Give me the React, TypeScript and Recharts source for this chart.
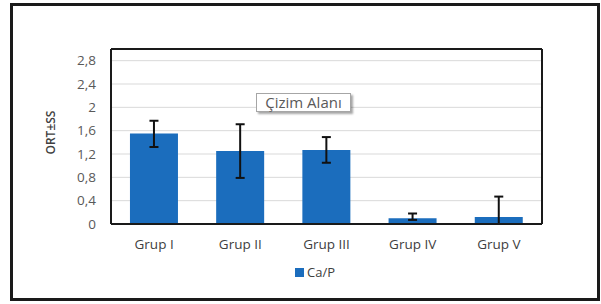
import React from 'react';
import { BarChart, Bar, XAxis, YAxis, CartesianGrid, ErrorBar, Legend } from 'recharts';

const categories = ['Grup I', 'Grup II', 'Grup III', 'Grup IV', 'Grup V'];
const means = [1.55, 1.25, 1.27, 0.1, 0.12];
const errLow = [0.23, 0.46, 0.22, 0.03, 0.12];
const errHigh = [0.22, 0.46, 0.22, 0.08, 0.35];
const yTicks = [0, 0.4, 0.8, 1.2, 1.6, 2, 2.4, 2.8];
const seriesName = 'Ca/P';
const yTitle = 'ORT±SS';
const plotAreaLabel = 'Çizim Alanı';

const data = categories.map((c, i) => ({
  name: c,
  value: means[i],
  err: [errLow[i], errHigh[i]],
}));

const BLUE = '#1B6DBD';
const FONT = '"Open Sans", "Noto Sans", sans-serif';

const YTitle = (props: any) => {
  const vb = props.viewBox || {};
  const x = vb.x + 9;
  const y = vb.y + vb.height / 2 - 4;
  return (
    <text
      x={x}
      y={y}
      transform={`rotate(-90 ${x} ${y})`}
      textAnchor="middle"
      dominantBaseline="central"
      fill="#404040"
      fontSize={12}
      fontWeight={600}
      fontFamily={FONT}
    >
      {yTitle}
    </text>
  );
};

const LegendContent = () => (
  <div style={{ display: 'flex', alignItems: 'center', height: 18, fontFamily: FONT }}>
    <span style={{ display: 'inline-block', width: 9, height: 9, background: BLUE, marginRight: 3 }} />
    <span style={{ fontSize: 13, color: '#404040', lineHeight: '18px' }}>{seriesName}</span>
  </div>
);

export default function App() {
  return (
    <div style={{ position: 'absolute', left: 0, top: 0, width: 601, height: 304, background: '#fff', fontFamily: FONT }}>
      <BarChart
        width={601}
        height={304}
        data={data}
        margin={{ top: 48, right: 58, left: 41, bottom: 32 }}
        barCategoryGap="22%"
        style={{ fontFamily: FONT }}
      >
        <CartesianGrid horizontal vertical={false} stroke="#d9d9d9" strokeWidth={1} />
        <XAxis
          dataKey="name"
          height={30}
          tickLine={false}
          tickMargin={9}
          axisLine={{ stroke: '#1a1a1a', strokeWidth: 2 }}
          tick={{ fill: '#404040', fontSize: 13.5 }}
        />
        <XAxis
          xAxisId="top"
          orientation="top"
          dataKey="name"
          height={1}
          tick={false}
          tickLine={false}
          axisLine={{ stroke: '#1a1a1a', strokeWidth: 2 }}
        />
        <YAxis
          width={70}
          domain={[0, 3]}
          ticks={yTicks}
          interval={0}
          tickLine={false}
          tickMargin={9}
          axisLine={{ stroke: '#1a1a1a', strokeWidth: 2 }}
          tick={{ fill: '#595959', fontSize: 13.5 }}
          tickFormatter={(v: number) => String(v).replace('.', ',')}
          label={<YTitle />}
        />
        <YAxis
          yAxisId="right"
          orientation="right"
          width={1}
          domain={[0, 3]}
          tick={false}
          tickLine={false}
          axisLine={{ stroke: '#1a1a1a', strokeWidth: 2 }}
        />
        <Legend
          content={<LegendContent />}
          verticalAlign="bottom"
          wrapperStyle={{ top: 263, left: 295, width: 'auto' }}
        />
        <Bar dataKey="value" name={seriesName} fill={BLUE} isAnimationActive={false}>
          <ErrorBar dataKey="err" width={4.5} strokeWidth={2} stroke="#111" />
        </Bar>
      </BarChart>
      <div
        style={{
          position: 'absolute',
          left: 256,
          top: 93,
          width: 95,
          height: 19,
          boxSizing: 'border-box',
          border: '1px solid #a6a6a6',
          background: '#fff',
          boxShadow: '2px 2px 2px rgba(0,0,0,0.35)',
          fontSize: 15,
          lineHeight: '17px',
          color: '#595959',
          textAlign: 'center',
          fontFamily: FONT,
        }}
      >
        {plotAreaLabel}
      </div>
      <div
        style={{
          position: 'absolute',
          left: 10,
          top: 3,
          width: 590,
          height: 298,
          boxSizing: 'border-box',
          border: '3px solid #1a1a1a',
          pointerEvents: 'none',
        }}
      />
    </div>
  );
}
